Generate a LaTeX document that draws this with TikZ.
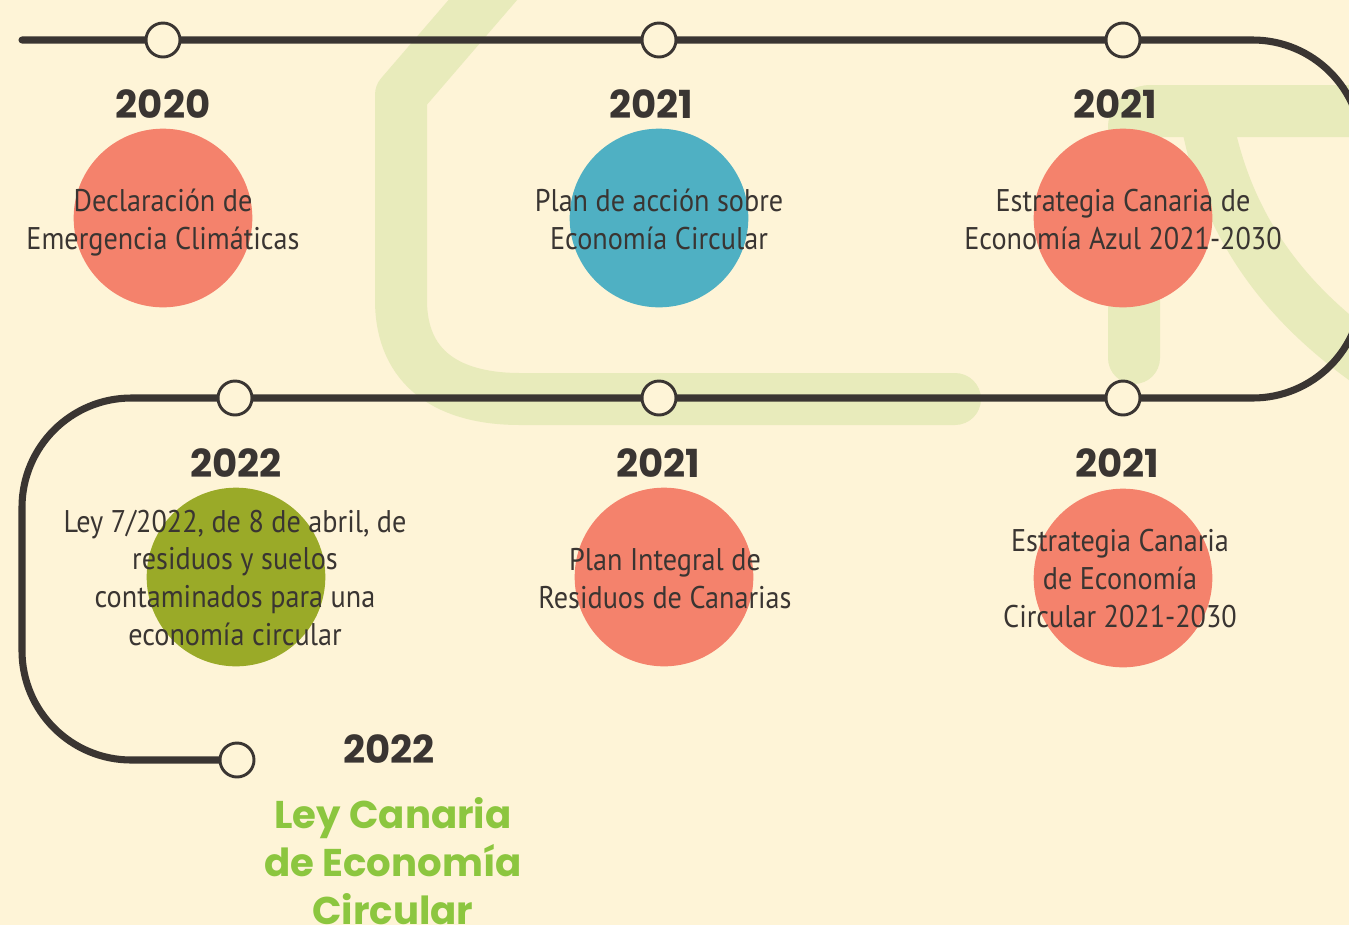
\documentclass[tikz,border=0pt]{standalone}
\usepackage{fontspec}
\newfontfamily\yearfont{Poppins}
\newfontfamily\bodyfont[FakeStretch=0.9]{PT Sans}
\definecolor{bgcream}{HTML}{FEF4D7}
\definecolor{bandgreen}{HTML}{E8EBBB}
\definecolor{track}{HTML}{3A3532}
\definecolor{salmon}{HTML}{F4826C}
\definecolor{teal}{HTML}{4FB0C3}
\definecolor{olive}{HTML}{9AAA28}
\definecolor{lawn}{HTML}{8CC63F}
\begin{document}
\begin{tikzpicture}[x=0.75pt,y=-0.75pt,
  band/.style={draw=bandgreen,line width=39pt,line cap=round,line join=round},
  trackline/.style={draw=track,line width=5.3pt,line cap=round},
  station/.style={circle,draw=track,fill=bgcream,line width=2.2pt,minimum size=25.5pt,inner sep=0pt},
  bigdot/.style={circle,minimum size=134pt,inner sep=0pt},
  year/.style={font=\yearfont\bfseries\fontsize{29}{34}\selectfont,text=track,anchor=base,inner sep=0pt},
  body/.style={font=\bodyfont\fontsize{23.5}{28.2}\selectfont,text=track,align=center,anchor=base,inner sep=0pt},
  final/.style={font=\yearfont\bfseries\fontsize{29}{36}\selectfont,text=lawn,align=center,anchor=base,inner sep=0pt}]
\useasboundingbox (0,0) rectangle (1349,925);
\fill[bgcream] (0,0) rectangle (1349,925);
\begin{scope}
\clip (0,0) rectangle (1349,925);
% background green bands
\coordinate (ba) at (500,-20);
\coordinate (bb) at (401,95);
\coordinate (bd) at (955,399);
\draw[band] (ba) -- (bb) -- (401,300) .. controls (401,370) and (450,399) .. (520,399) -- (bd);
\coordinate (ra) at (1134,358);
\coordinate (rb) at (1134,111);
\coordinate (rc) at (1420,111);
\draw[band,rounded corners=12pt] (ra) -- (rb) -- (rc);
\coordinate (da) at (1205,111);
\coordinate (db) at (1420,395);
\draw[band] (da) .. controls (1225,230) and (1290,320) .. (db);
% track
\coordinate (t0) at (22,40);
\coordinate (t1) at (1362,40);
\coordinate (t2) at (1362,398);
\coordinate (t3) at (22,398);
\coordinate (t4) at (22,760);
\coordinate (t5) at (237,760);
\draw[trackline,rounded corners=82pt] (t0) -- (t1) -- (t2) -- (t3) -- (t4) -- (t5);
\end{scope}
% stations
\node[station] (s1) at (163,40) {};
\node[station] (s2) at (659,40) {};
\node[station] (s3) at (1123,40) {};
\node[station] (s4) at (235,398) {};
\node[station] (s5) at (659,398) {};
\node[station] (s6) at (1123,398) {};
\node[station] (s7) at (237,760) {};
% big dots
\node[bigdot,fill=salmon] (c1) at (163,218) {};
\node[bigdot,fill=teal] (c2) at (659,218) {};
\node[bigdot,fill=salmon] (c3) at (1123,218) {};
\node[bigdot,fill=olive] (c4) at (236,577) {};
\node[bigdot,fill=salmon] (c5) at (664,577) {};
\node[bigdot,fill=salmon] (c6) at (1123,578) {};
% years
\node[year] (y1) at (163,118) {2020};
\node[year] (y2) at (651,118) {2021};
\node[year] (y3) at (1115,118) {2021};
\node[year] (y4) at (236,477) {2022};
\node[year] (y5) at (658,477) {2021};
\node[year] (y6) at (1117,477) {2021};
\node[year] (y7) at (389,763) {2022};
% texts (anchored at the baseline of the last line)
\node[body] (l1) at (163,249) {Declaración de\\Emergencia Climáticas};
\node[body] (l2) at (659,249) {Plan de acción sobre\\Economía Circular};
\node[body] (l3) at (1123,249) {Estrategia Canaria de\\Economía Azul 2021-2030};
\node[body] (l4) at (235,645) {Ley 7/2022, de 8 de abril, de\\residuos y suelos\\contaminados para una\\economía circular};
\node[body] (l5) at (665,608) {Plan Integral de\\Residuos de Canarias};
\node[body] (l6) at (1120,627) {Estrategia Canaria\\de Economía\\Circular 2021-2030};
\node[final] (l7) at (393,924) {Ley Canaria\\de Economía\\Circular};
\end{tikzpicture}
\end{document}
